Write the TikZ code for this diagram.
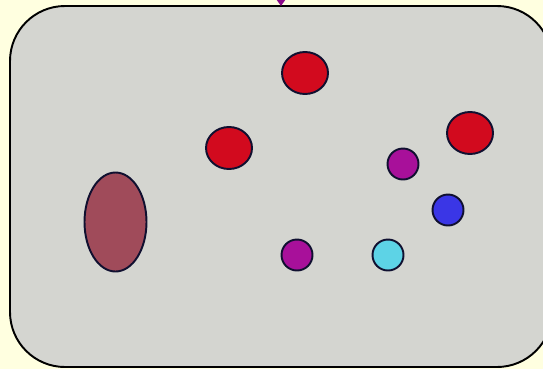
\documentclass[tikz,border=0pt]{standalone}
\usepackage{tikz}
\usetikzlibrary{arrows.meta,shapes.geometric}
\definecolor{PageCream}{HTML}{FFFFE0}
\definecolor{FieldGrey}{HTML}{D4D5D0}
\definecolor{EdgeNavy}{HTML}{101030}
\definecolor{CellRed}{HTML}{D20A1E}
\definecolor{CellPlum}{HTML}{A8109A}
\definecolor{CellBlue}{HTML}{3A36E6}
\definecolor{CellCyan}{HTML}{5DD3E6}
\definecolor{CellWine}{HTML}{A04B5A}
\definecolor{LinkPurple}{HTML}{8A0A8A}
\newcommand{\px}{0.02cm}

\tikzset{
  cell/.style={ellipse, draw=EdgeNavy, line width=1.1pt, inner sep=0pt},
  bigcell/.style={cell, fill=CellRed, minimum width=46*\px, minimum height=42*\px},
  smallcell/.style={cell, minimum width=31*\px, minimum height=31*\px}
}

\begin{document}
\begin{tikzpicture}[x={(\px,0)}, y={(0,-\px)}]
    \clip (0,0) rectangle (543,369);
    \fill[PageCream] (0,0) rectangle (543,369);

    % the field
    \draw[fill=FieldGrey, line width=1.1pt, rounded corners=55*\px]
      (10,6) rectangle (552,367);
    \coordinate (fieldtop) at (281,6);
    \coordinate (inlet) at (281,-30);
    \draw[LinkPurple, line width=1.1pt, -{Triangle[width=8*\px, length=6*\px]}]
      (inlet) -- (fieldtop);

    % cells
    \node[bigcell] (redtop) at (305,73) {};
    \node[bigcell] (redleft) at (229,148) {};
    \node[bigcell] (redright) at (470,133) {};
    \node[smallcell, fill=CellPlum] (plumright) at (403,164) {};
    \node[smallcell, fill=CellBlue] (blue) at (448,210) {};
    \node[smallcell, fill=CellPlum] (plumlow) at (297,255) {};
    \node[smallcell, fill=CellCyan] (cyan) at (388,255) {};
    \node[cell, fill=CellWine, minimum width=62*\px, minimum height=99*\px] (wine) at (115.5,222) {};
  \end{tikzpicture}
\end{document}
